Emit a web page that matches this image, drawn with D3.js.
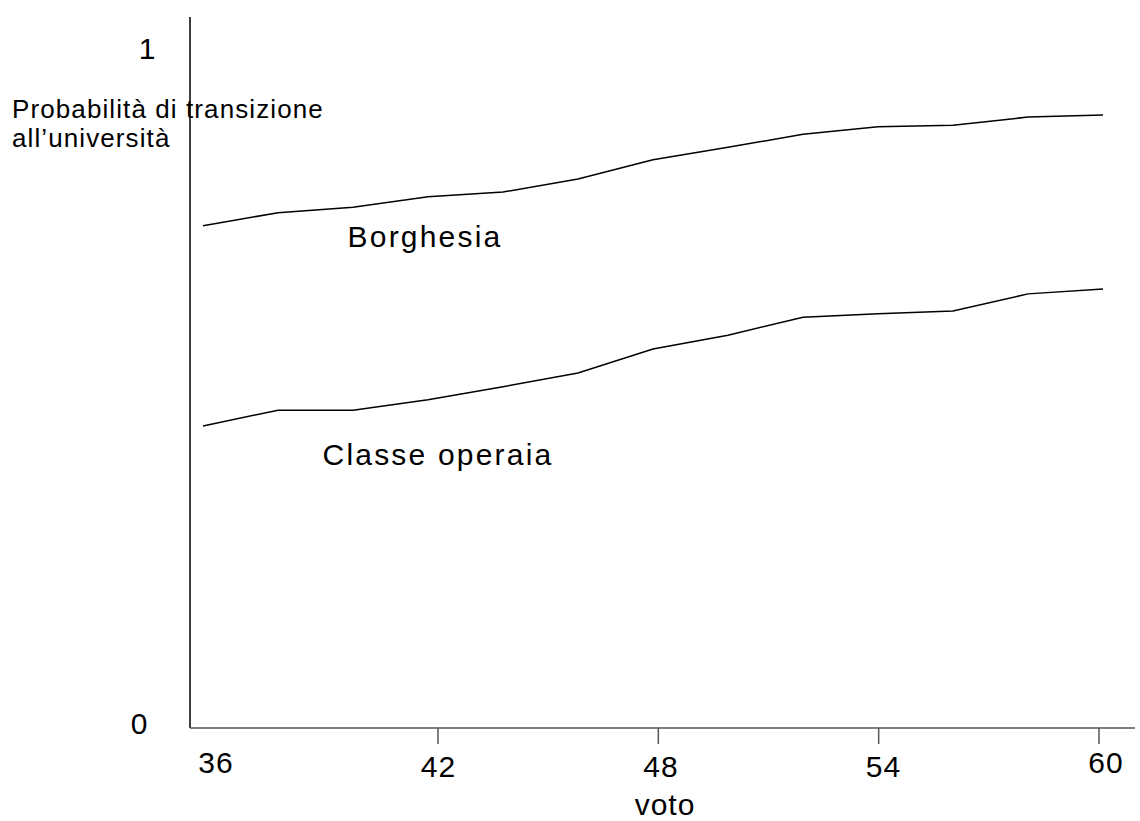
<!DOCTYPE html>
<html>
<head>
<meta charset="utf-8">
<script src="https://cdn.jsdelivr.net/npm/d3@7"></script>
<style>
  body { margin: 0; background: #fff; }
  text { font-family: "Liberation Sans", Arial, sans-serif; fill: #000; }
</style>
</head>
<body>
<div id="chart"></div>
<script>
const voto = [36, 38, 40, 42, 44, 46, 48, 50, 52, 54, 56, 58, 60]
const borghesia = [0.730, 0.749, 0.757, 0.772, 0.779, 0.798, 0.826, 0.844, 0.863, 0.874, 0.876, 0.888, 0.891]
const classeOperaia = [0.439, 0.462, 0.462, 0.477, 0.496, 0.516, 0.551, 0.571, 0.597, 0.602, 0.606, 0.631, 0.638]
const xTicks = [36, 42, 48, 54, 60]
const yTicks = [0, 1]

const width = 1140, height = 821

const x = d3.scaleLinear().domain([36, 60]).range([203, 1103])
const y = d3.scaleLinear().domain([0, 1]).range([728, 40])
// tick marks and labels of the hand drawn axis don't sit on the data grid
const xt = d3.scaleLinear().domain([42, 60]).range([438, 1099])
const xl = d3.scaleLinear().domain([36, 60]).range([216, 1106])
const yl = d3.scaleLinear().domain([0, 1]).range([734, 59])

const svg = d3.select("#chart")
  .append("svg")
    .attr("width", width)
    .attr("height", height)

// axes
svg.append("line")
  .attr("x1", 190).attr("x2", 190)
  .attr("y1", 17).attr("y2", y(0))
  .style("stroke", "#000")
  .style("stroke-width", 1.5)
svg.append("line")
  .attr("x1", 190).attr("x2", 1135)
  .attr("y1", y(0)).attr("y2", y(0))
  .style("stroke", "#555")
  .style("stroke-width", 1.5)

svg.selectAll(null)
  .data(xTicks.filter(d => d > 36))
  .enter()
  .append("line")
    .attr("x1", d => xt(d)).attr("x2", d => xt(d))
    .attr("y1", y(0)).attr("y2", y(0) + 16)
    .style("stroke", "#555")
    .style("stroke-width", 1.5)

svg.selectAll(null)
  .data(xTicks)
  .enter()
  .append("text")
    .attr("x", d => xl(d))
    .attr("y", d => (d == 36 || d == 60) ? 773 : 777)
    .attr("text-anchor", "middle")
    .style("font-size", "30px")
    .style("letter-spacing", "1px")
    .text(d => d)

svg.selectAll(null)
  .data(yTicks)
  .enter()
  .append("text")
    .attr("x", d => d == 1 ? 147 : 139)
    .attr("y", d => yl(d))
    .attr("text-anchor", "middle")
    .style("font-size", "30px")
    .text(d => d)

svg.append("text")
  .attr("x", 665)
  .attr("y", 815)
  .attr("text-anchor", "middle")
  .style("font-size", "30px")
  .style("letter-spacing", "1px")
  .text("voto")

svg.append("text")
  .attr("x", 12)
  .attr("y", 118)
  .style("font-size", "26px")
  .style("letter-spacing", "1.1px")
  .text("Probabilità di transizione")
svg.append("text")
  .attr("x", 12)
  .attr("y", 147)
  .style("font-size", "26px")
  .style("letter-spacing", "1.1px")
  .text("all’università")

const line = d3.line()
  .x((d, i) => x(voto[i]))
  .y(d => y(d))

for (let s of [borghesia, classeOperaia]) {
  svg.append("path")
    .datum(s)
    .attr("d", line)
    .style("fill", "none")
    .style("stroke", "#000")
    .style("stroke-width", 1.5)
}

svg.append("text")
  .attr("x", 425)
  .attr("y", 247)
  .attr("text-anchor", "middle")
  .style("font-size", "30px")
  .style("letter-spacing", "2.2px")
  .text("Borghesia")
svg.append("text")
  .attr("x", 438)
  .attr("y", 465)
  .attr("text-anchor", "middle")
  .style("font-size", "30px")
  .style("letter-spacing", "2.2px")
  .text("Classe operaia")
</script>
</body>
</html>
